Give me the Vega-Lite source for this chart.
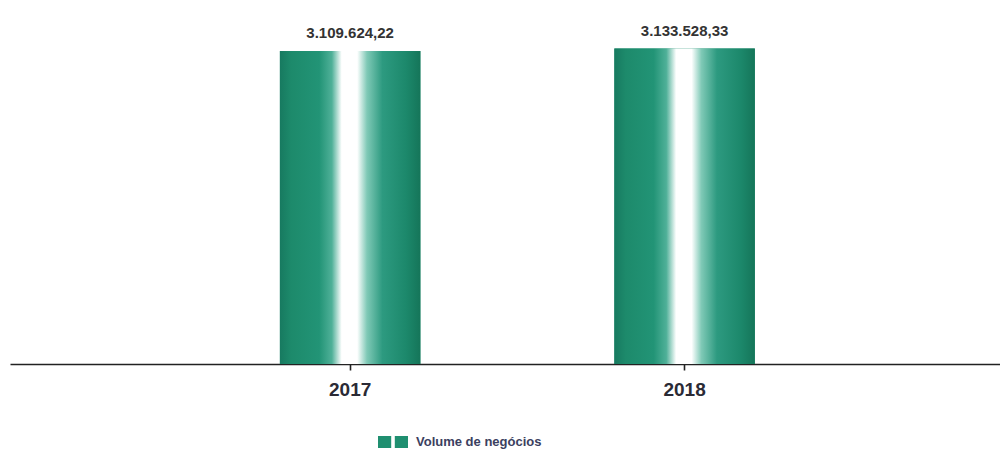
{
  "$schema": "https://vega.github.io/schema/vega-lite/v6.json",
  "width": 990,
  "height": 364,
  "autosize": "none",
  "padding": {"left": 10, "top": 0, "right": 0, "bottom": 94},
  "background": "white",
  "data": {
    "values": [
      {"ano": "2017", "valor": 3109624.22, "rotulo": "3.109.624,22", "serie": "Volume de negócios"},
      {"ano": "2018", "valor": 3133528.33, "rotulo": "3.133.528,33", "serie": "Volume de negócios"}
    ]
  },
  "encoding": {
    "x": {
      "field": "ano",
      "type": "nominal",
      "scale": {"paddingInner": 0.58, "paddingOuter": 0.77, "align": 0.524},
      "axis": {
        "title": null,
        "labelAngle": 0,
        "labelFont": "Liberation Sans",
        "labelFontSize": 19,
        "labelFontWeight": "bold",
        "labelColor": "#2a2a35",
        "labelPadding": 10,
        "domainColor": "#222222",
        "domainWidth": 1.6,
        "tickColor": "#222222",
        "tickWidth": 1.6,
        "tickSize": 6,
        "grid": false
      }
    },
    "y": {
      "field": "valor",
      "type": "quantitative",
      "scale": {"domain": [0, 3616000]},
      "axis": null
    }
  },
  "layer": [
    {
      "mark": {"type": "bar"},
      "encoding": {
        "color": {
          "field": "serie",
          "type": "nominal",
          "scale": {"range": ["#1f8f70"]},
          "legend": {
            "title": null,
            "orient": "none",
            "legendX": 368,
            "legendY": 427,
            "direction": "horizontal",
            "symbolType": "M-1,-0.4H-0.12V0.4H-1Z M0.12,-0.4H1V0.4H0.12Z",
            "symbolSize": 900,
            "symbolStrokeWidth": 0,
            "labelFont": "Liberation Sans",
            "labelFontSize": 13,
            "labelFontWeight": "bold",
            "labelColor": "#3b4060",
            "labelOffset": 8
          }
        }
      }
    },
    {
      "mark": {
        "type": "bar",
        "color": {
          "gradient": "linear",
          "x1": 0, "y1": 0, "x2": 1, "y2": 0,
          "stops": [
            {"offset": 0, "color": "#177a60"},
            {"offset": 0.08, "color": "#1d8a6b"},
            {"offset": 0.28, "color": "#229476"},
            {"offset": 0.37, "color": "#4fb098"},
            {"offset": 0.44, "color": "#ffffff"},
            {"offset": 0.55, "color": "#ffffff"},
            {"offset": 0.62, "color": "#7fc9b6"},
            {"offset": 0.73, "color": "#2d9a80"},
            {"offset": 0.9, "color": "#1c886b"},
            {"offset": 1, "color": "#157559"}
          ]
        }
      }
    },
    {
      "mark": {
        "type": "text",
        "baseline": "bottom",
        "dy": -10,
        "font": "Liberation Sans",
        "fontSize": 15,
        "fontWeight": "bold",
        "color": "#333333"
      },
      "encoding": {"text": {"field": "rotulo", "type": "nominal"}}
    }
  ],
  "config": {"view": {"stroke": null}}
}
